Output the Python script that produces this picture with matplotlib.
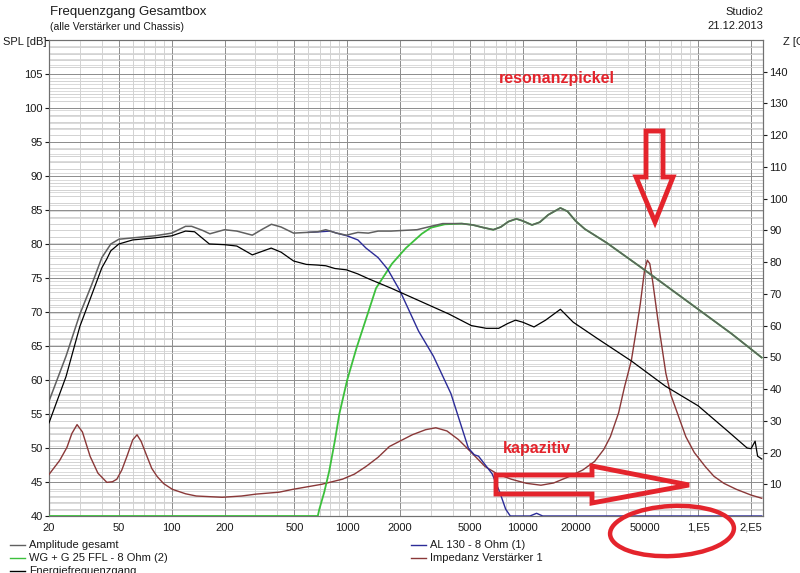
import matplotlib
matplotlib.use("Agg")
import matplotlib.pyplot as plt
from matplotlib.lines import Line2D
from matplotlib.patches import Polygon, Ellipse
from matplotlib.ticker import FixedLocator, NullFormatter, MultipleLocator, LogLocator

plt.rcParams['font.family'] = ['Liberation Sans', 'DejaVu Sans']

# ---------------- data ----------------
amp_f = [20, 25, 30, 35, 40, 45, 50, 60, 80, 100, 120, 130, 150, 165, 200, 235, 288, 330, 370, 420,
         495, 585, 680, 755, 870, 990, 1150, 1320, 1500, 1780, 2100, 2500, 3000, 3500, 4500, 5200,
         6000, 6800, 7500, 8300, 9200, 10000, 11300, 12500, 14000, 16400, 18000, 20000, 22600,
         30000, 47600, 100000, 155000, 230000]
amp_db = [56.9, 63.5, 69.7, 74.0, 78.0, 80.0, 80.7, 80.9, 81.2, 81.6, 82.6, 82.6, 82.0, 81.5, 82.1,
          81.9, 81.3, 82.2, 82.9, 82.5, 81.6, 81.7, 81.8, 82.1, 81.6, 81.3, 81.7, 81.6, 81.9, 81.9,
          82.0, 82.1, 82.6, 83.0, 83.0, 82.8, 82.4, 82.1, 82.5, 83.3, 83.7, 83.4, 82.8, 83.2, 84.3,
          85.3, 84.8, 83.4, 82.2, 80.2, 76.5, 70.4, 66.8, 63.3]

energy_f = [20, 25, 30, 35, 40, 42.7, 45, 50, 60, 80, 100, 120, 135, 164, 200, 235, 288, 369, 420,
            495, 585, 680, 755, 850, 990, 1150, 1320, 1780, 2500, 3800, 5100, 6200, 7300, 8200,
            9100, 10000, 11600, 13500, 16400, 19400, 27000, 41600, 65000, 100000, 147000, 190000,
            200000, 211000, 218000, 230000]
energy_db = [53.7, 60.5, 67.9, 72.5, 76.5, 77.8, 79.0, 80.0, 80.6, 80.9, 81.2, 81.9, 81.8, 80.0,
             79.9, 79.7, 78.4, 79.4, 78.8, 77.5, 77.0, 76.9, 76.8, 76.4, 76.2, 75.6, 74.9, 73.5,
             71.8, 69.7, 68.0, 67.6, 67.6, 68.3, 68.8, 68.5, 67.8, 68.8, 70.4, 68.5, 66.0, 62.8,
             59.1, 56.2, 52.5, 50.0, 49.9, 51.0, 48.8, 48.4]

al130_f = [600, 700, 800, 870, 1000, 1150, 1280, 1500, 1700, 2000, 2550, 3100, 3900, 4900, 5300,
           5600, 6000, 6700, 7400, 8000, 8500, 11000, 12000, 13000, 230000]
al130_db = [81.7, 81.8, 81.9, 81.6, 81.2, 80.6, 79.4, 78.0, 76.3, 73.1, 67.2, 63.5, 58.0, 50.0,
            49.0, 48.8, 47.8, 46.2, 43.5, 41.0, 40.0, 40.0, 40.4, 40.0, 40.0]

wg_f = [20, 680, 694, 740, 790, 850, 902, 1000, 1130, 1300, 1460, 1800, 2160, 2660, 3000, 3600,
        4500, 5200, 6000, 6800, 7500, 8300, 9200, 10000, 11300, 12500, 14000, 16400, 18000, 20000,
        22600, 30000, 47600, 100000, 155000, 230000]
wg_db = [40.0, 40.0, 41.0, 43.5, 46.6, 51.0, 55.0, 60.0, 64.7, 69.5, 73.5, 77.1, 79.4, 81.5, 82.4,
         82.9, 83.0, 82.8, 82.4, 82.1, 82.5, 83.3, 83.7, 83.4, 82.8, 83.2, 84.3, 85.3, 84.8, 83.4,
         82.2, 80.2, 76.5, 70.4, 66.8, 63.3]

imp_f = [20, 23, 25.3, 27, 28.9, 31, 34.3, 38, 42.7, 46, 48.7, 52, 55.6, 60, 63.5, 67, 72.3, 77,
         82.5, 90, 101, 120, 138, 194, 250, 303, 409, 490, 717, 940, 1100, 1280, 1500, 1740, 2350,
         2800, 3200, 3700, 4300, 5000, 6100, 7200, 8600, 10500, 12700, 15000, 18000, 22000, 25700,
         29000, 31600, 35200, 38000, 41600, 44500, 46800, 49400, 51300, 53000, 55000, 59000, 65400,
         70000, 76000, 85000, 95000, 110000, 123000, 140000, 165000, 200000, 230000]
imp_ohm = [13.1, 17.5, 21.6, 26.0, 28.8, 26.5, 18.8, 13.5, 10.6, 10.8, 11.6, 14.5, 18.8, 24.0, 25.6,
           23.5, 18.8, 15.0, 12.5, 10.2, 8.4, 7.0, 6.3, 5.9, 6.3, 6.9, 7.5, 8.4, 10.0, 11.6, 13.2,
           15.6, 18.5, 21.9, 25.6, 27.2, 27.8, 26.8, 24.1, 20.5, 15.6, 13.2, 11.6, 10.3, 9.7, 10.4,
           12.2, 14.5, 17.2, 21.0, 25.0, 32.5, 40.6, 49.0, 59.0, 66.9, 77.2, 80.6, 79.5, 74.0, 61.6,
           45.0, 38.0, 32.5, 25.0, 20.0, 15.5, 12.5, 10.3, 8.4, 6.6, 5.6]

x_ticks = [20, 50, 100, 200, 500, 1000, 2000, 5000, 10000, 20000, 50000, 100000, 200000]
x_labels = ['20', '50', '100', '200', '500', '1000', '2000', '5000', '10000', '20000', '50000',
            '1,E5', '2,E5']
spl_ticks = list(range(40, 110, 5))
z_ticks = list(range(10, 150, 10))

series_names = ['Amplitude gesamt', 'WG + G 25 FFL - 8 Ohm (2)', 'Energiefrequenzgang',
                'AL 130 - 8 Ohm (1)', 'Impedanz Verstärker 1']

# ---------------- styles ----------------
C_AMP = '#606060'
C_EN = '#000000'
C_WG = '#3cc03c'
C_AL = '#2c2c98'
C_IMP = '#8a3838'
C_RED = '#e4242c'
C_TXT = '#1a1a1a'

W, H = 800, 573
fig = plt.figure(figsize=(W / 100, H / 100), dpi=100)
fig.patch.set_facecolor('white')

L, R, T, B = 49, 763, 40, 516
ax = fig.add_axes([L / W, 1 - B / H, (R - L) / W, (B - T) / H])
ax.set_xscale('log')
ax.set_xlim(20, 234000)
ax.set_ylim(40, 110)

ax2 = ax.twinx()
ax2.set_ylim(0, 150)
# right axis (ticks + its light grid) sits behind the main axes
ax2.set_zorder(1)
ax.set_zorder(2)
ax.patch.set_visible(False)

# grids
ax.xaxis.set_major_locator(FixedLocator(x_ticks))
ax.xaxis.set_minor_locator(LogLocator(base=10, subs=range(1, 10), numticks=50))
ax.xaxis.set_minor_formatter(NullFormatter())
ax.set_xticklabels(x_labels)
ax.yaxis.set_major_locator(FixedLocator(spl_ticks + [110]))
ax.yaxis.set_minor_locator(MultipleLocator(1))
ax.set_yticklabels([str(v) for v in spl_ticks] + [''])
ax2.yaxis.set_major_locator(FixedLocator(z_ticks))
ax2.yaxis.set_minor_locator(MultipleLocator(2))

ax.grid(which='minor', axis='both', color='#d2d2d2', lw=0.7)
ax.grid(which='major', axis='both', color='#8c8c8c', lw=0.7)
ax2.grid(which='minor', axis='y', color='#dadada', lw=0.7)
ax.set_axisbelow(True)
ax2.set_axisbelow(True)

ax.tick_params(axis='x', which='both', length=0, pad=5, labelsize=8, colors=C_TXT)
ax.tick_params(axis='y', which='major', length=3, width=0.8, pad=1.5, labelsize=8, colors=C_TXT,
               direction='out')
ax.tick_params(axis='y', which='minor', length=0)
ax2.tick_params(axis='y', which='major', length=3, width=0.8, pad=1.5, labelsize=8, colors=C_TXT,
                direction='out')
ax2.tick_params(axis='y', which='minor', length=0)

for a in (ax, ax2):
    for s in a.spines.values():
        s.set_color('#707070')
        s.set_linewidth(0.8)

# curves (impedance uses the right-axis scale but is drawn in the main axes, above the grids)
ax.plot(imp_f, imp_ohm, color=C_IMP, lw=1.0, zorder=3, transform=ax2.transData)
ax.plot(wg_f, wg_db, color=C_WG, lw=1.3, zorder=3)
ax.plot(al130_f, al130_db, color=C_AL, lw=1.0, zorder=3)
ax.plot(amp_f, amp_db, color=C_AMP, lw=1.1, zorder=4)
ax.plot(energy_f, energy_db, color=C_EN, lw=0.9, zorder=4)
ax.set_xlim(20, 234000)
ax.set_ylim(40, 110)

# header texts
fig.text(50 / W, 1 - 12 / H, 'Frequenzgang Gesamtbox', fontsize=9.5, color=C_TXT, va='center', ha='left')
fig.text(50 / W, 1 - 27 / H, '(alle Verstärker und Chassis)', fontsize=7.5, color=C_TXT, va='center', ha='left')
fig.text(763 / W, 1 - 12 / H, 'Studio2', fontsize=8, color=C_TXT, va='center', ha='right')
fig.text(763 / W, 1 - 26 / H, '21.12.2013', fontsize=8, color=C_TXT, va='center', ha='right')
fig.text(3 / W, 1 - 42 / H, 'SPL [dB]', fontsize=8, color=C_TXT, va='center', ha='left')
fig.text(783 / W, 1 - 42 / H, 'Z [Ohm]', fontsize=8, color=C_TXT, va='center', ha='left')

# legend (manual, two columns)
leg_cols = [C_AMP, C_WG, C_EN, C_AL, C_IMP]
leg_pos = [(10, 545), (10, 558), (10, 571), (411, 545), (411, 558)]
for name, col, (lx, ly) in zip(series_names, leg_cols, leg_pos):
    fig.add_artist(Line2D([lx / W, (lx + 15) / W], [1 - ly / H, 1 - ly / H], color=col, lw=1.0,
                          transform=fig.transFigure))
    fig.text((lx + 19) / W, 1 - ly / H, name, fontsize=8, color=C_TXT, va='center', ha='left')

# red annotations overlay (pixel space)
ov = fig.add_axes([0, 0, 1, 1], facecolor='none')
ov.set_zorder(5)
ov.set_xlim(0, W)
ov.set_ylim(H, 0)
ov.axis('off')
ov.text(557, 78, 'resonanzpickel', color=C_RED, fontsize=11.5, fontweight='bold', ha='center', va='center')
ov.text(537, 449, 'kapazitiv', color=C_RED, fontsize=11.5, fontweight='bold', ha='center', va='center')
down = [(646, 131), (663, 131), (663, 177), (673, 177), (655, 222), (636, 177), (646, 177)]
ov.add_patch(Polygon(down, closed=True, fill=False, edgecolor=C_RED, lw=3.5, joinstyle='miter'))
right = [(496, 475), (592, 475), (592, 466), (689, 485), (592, 503), (592, 494), (496, 494)]
ov.add_patch(Polygon(right, closed=True, fill=False, edgecolor=C_RED, lw=3.5, joinstyle='miter'))
ov.add_patch(Ellipse((672, 531), 124, 50, angle=-3, fill=False, edgecolor=C_RED, lw=3.2))

fig.savefig('out.png', dpi=100, facecolor='white')
